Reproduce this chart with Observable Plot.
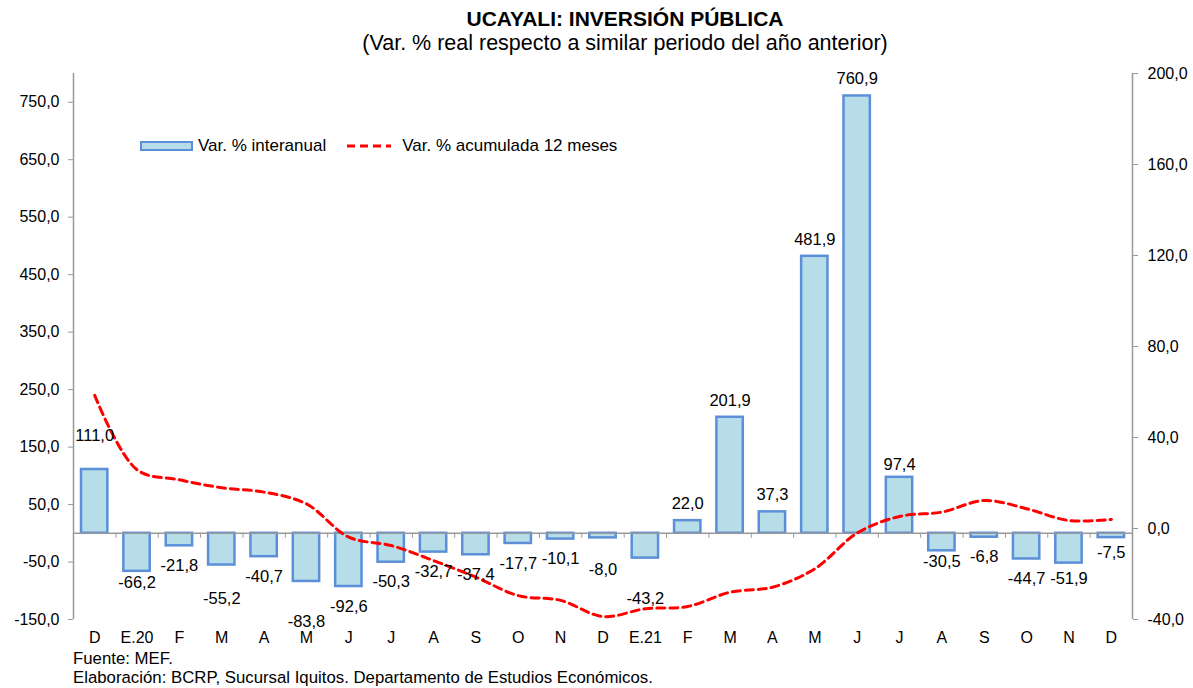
<!DOCTYPE html>
<html><head><meta charset="utf-8">
<script src="https://cdn.jsdelivr.net/npm/d3@7"></script>
<script src="https://cdn.jsdelivr.net/npm/@observablehq/plot@0.6"></script>
<style>
body{margin:0;background:#fff;font-family:"Liberation Sans",Arial,sans-serif;color:#000;}
#wrap{position:relative;width:1193px;height:688px;overflow:hidden;}
#title{position:absolute;left:0;width:1250px;top:6px;text-align:center;font-weight:bold;font-size:21px;line-height:25px;}
#subtitle{position:absolute;left:0;width:1250px;top:31px;text-align:center;font-size:21.5px;line-height:25px;}
#chart{position:absolute;left:0;top:55px;}
#legend{position:absolute;left:140px;top:135px;height:22px;display:flex;align-items:center;font-size:17px;}
#legend .sw{width:49px;height:6px;background:#B7DDE8;border:2px solid #5B8FD8;margin-right:5px;}
#legend .item2{margin-left:19px;display:flex;align-items:center;}
.cap{position:absolute;left:73px;font-size:16.8px;line-height:18px;}
</style></head><body>
<div id="wrap">
<div id="title">UCAYALI: INVERSIÓN PÚBLICA</div>
<div id="subtitle">(Var. % real respecto a similar periodo del año anterior)</div>
<div id="chart"></div>
<div id="legend"><div class="sw"></div><span>Var. % interanual</span>
<span class="item2"><svg width="50" height="10" style="margin-right:7px"><line x1="2" y1="5" x2="46" y2="5" stroke="#FF0000" stroke-width="3" stroke-dasharray="8,5"/></svg><span>Var. % acumulada 12 meses</span></span></div>
<div class="cap" style="top:650px">Fuente: MEF.</div>
<div class="cap" style="top:669px">Elaboración: BCRP, Sucursal Iquitos. Departamento de Estudios Económicos.</div>
</div>
<script>
// ---- data ----
const months = ["D","E.20","F","M","A","M","J","J","A","S","O","N","D","E.21","F","M","A","M","J","J","A","S","O","N","D"];
const interanual = [111.0,-66.2,-21.8,-55.2,-40.7,-83.8,-92.6,-50.3,-32.7,-37.4,-17.7,-10.1,-8.0,-43.2,22.0,201.9,37.3,481.9,760.9,97.4,-30.5,-6.8,-44.7,-51.9,-7.5];
const acumulada = [58.5,25.8,21.4,17.9,16.0,10.8,-3.8,-7.5,-14.1,-21.4,-29.5,-31.6,-38.7,-35.3,-34.3,-28.0,-25.8,-17.7,-2.0,5.3,7.2,12.3,8.7,3.5,4.0];
const leftTicks = [-150,-50,50,150,250,350,450,550,650,750];
const rightTicks = [-40,0,40,80,120,160,200];
const leftDomain = [-150, 800];
const rightDomain = [-40, 200];

// ---- layout (label nudges in px, by bar index) ----
const labelNudge = {0:-17, 1:-9, 3:14, 5:20, 12:12, 13:21, 19:4, 20:-9, 23:-4, 24:-5};
const W = 1193, H = 595, ML = 73, MR = 61, MT = 18, MB = 31;
const step = (W - ML - MR) / months.length;

const toLeft = r => leftDomain[0] + (r - rightDomain[0]) * (leftDomain[1]-leftDomain[0]) / (rightDomain[1]-rightDomain[0]);
const toRight = l => rightDomain[0] + (l - leftDomain[0]) * (rightDomain[1]-rightDomain[0]) / (leftDomain[1]-leftDomain[0]);
const fmt = v => (Math.round(v*10)/10).toFixed(1).replace(".", ",");

const data = months.map((m,i) => ({i, m, bar: interanual[i], acc: acumulada[i]}));

// group labels by their pixel offset
const groups = d3.group(data, d => (d.bar >= 0 ? -17 : 20) + (labelNudge[d.i] || 0));
const labelMarks = Array.from(groups, ([dy, rows]) =>
  Plot.text(rows, {x: "i", y: "bar", text: d => fmt(d.bar), dy, fill: "#000", fontSize: 16.5}));

const gray = "#999";
const chart = Plot.plot({
  width: W, height: H, marginLeft: ML, marginRight: MR, marginTop: MT, marginBottom: MB,
  style: {fontFamily: "'Liberation Sans', Arial, sans-serif", fontSize: "16px", color: "#000", background: "#fff"},
  x: {type: "band", domain: d3.range(months.length), padding: 0, round: false, axis: null},
  y: {domain: leftDomain, axis: null},
  marks: [
    Plot.barY(data, {x: "i", y: "bar", fill: "#B7DDE8", stroke: "#5B8FD8", strokeWidth: 2.5, insetLeft: 8, insetRight: 8}),
    Plot.ruleY([0], {stroke: gray, strokeWidth: 1.5}),
    Plot.ruleX(d3.range(months.length - 1), {x: d => d, y1: 0, y2: 0, dx: step/2, insetBottom: -5, stroke: gray}),
    Plot.ruleX([0], {x: d => d, dx: -step/2, stroke: gray, strokeWidth: 1.5}),
    Plot.ruleX([months.length - 1], {x: d => d, dx: step/2, stroke: gray, strokeWidth: 1.5}),
    Plot.axisY({anchor: "left", ticks: leftTicks, tickFormat: fmt, tickSize: 5, tickPadding: 9, stroke: gray, fill: "#000", label: null}),
    Plot.axisY({anchor: "right", ticks: rightTicks.map(toLeft), tickFormat: v => fmt(toRight(v)), tickSize: 5, tickPadding: 10, stroke: gray, fill: "#000", label: null}),
    Plot.axisX({anchor: "bottom", tickSize: 0, tickPadding: 12, tickFormat: i => months[i], fill: "#000", label: null}),
    Plot.line(data, {x: "i", y: d => toLeft(d.acc), stroke: "#FF0000", strokeWidth: 3, strokeDasharray: "8,5", curve: "catmull-rom"}),
    ...labelMarks
  ]
});
document.getElementById("chart").appendChild(chart);
</script>
</body></html>
